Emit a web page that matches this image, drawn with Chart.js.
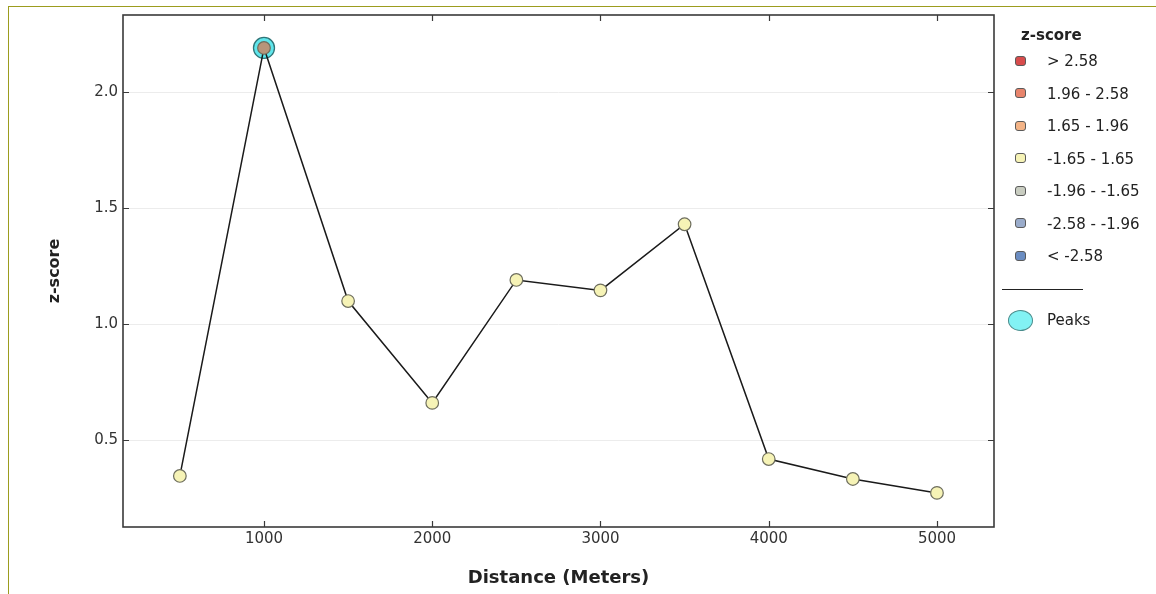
<!DOCTYPE html>
<html>
<head>
<meta charset="utf-8">
<title>z-score by distance</title>
<script src="https://cdn.jsdelivr.net/npm/chart.js@4.4.1/dist/chart.umd.min.js"></script>
<style>
  html, body { margin: 0; padding: 0; background: #fff; }
  body { width: 1156px; height: 594px; position: relative; overflow: hidden; font-family: 'DejaVu Sans', sans-serif; }
  #frame { position: absolute; left: 8px; top: 6px; width: 1200px; height: 700px; border-top: 1px solid #9c9c1e; border-left: 1px solid #9c9c1e; }
  #chart-box { position: absolute; left: 0; top: 0; width: 1156px; height: 594px; }
  #legend { position: absolute; left: 0; top: 0; width: 1156px; height: 594px; color: #222; font-size: 15px; pointer-events: none; }
  #legend div { position: absolute; white-space: nowrap; }
  #legend .title { font-weight: bold; left: 1021px; height: 20px; line-height: 20px; }
  #legend .box { left: 1015px; width: 9px; height: 8px; border: 1.5px solid #5a5a5a; border-radius: 3px; }
  #legend .txt { left: 1047px; height: 20px; line-height: 20px; }
  #legend .divider { left: 1002px; width: 81px; border-top: 1px solid #222; }
  #legend .circ { left: 1008px; width: 23px; height: 19px; border: 1px solid #4a8c8c; border-radius: 50%; background: #82f2f4; }
</style>
</head>
<body>
<div id="frame"></div>
<div id="chart-box"><canvas id="zchart" width="1156" height="594"></canvas></div>
<div id="legend"></div>

<script>
'use strict';

// data
let distances = [500, 1000, 1500, 2000, 2500, 3000, 3500, 4000, 4500, 5000];
let zScores = [0.345, 2.19, 1.099, 0.66, 1.19, 1.145, 1.43, 0.418, 0.332, 0.272];
let peakDistances = [1000];
let peakScores = [2.19];

let xTicks = [1000, 2000, 3000, 4000, 5000];
let yTicks = [0.5, 1.0, 1.5, 2.0];

// z-score bins for the legend
let binLabels = ['> 2.58', '1.96 - 2.58', '1.65 - 1.96', '-1.65 - 1.65', '-1.96 - -1.65', '-2.58 - -1.96', '< -2.58'];
let binColors = ['#d84c4c', '#e8846c', '#f4b487', '#f6f3b6', '#c9cdc1', '#9aaccb', '#6b8dc2'];

function binColor(z){
  if(z > 2.58) return binColors[0];
  if(z > 1.96) return '#b8957a';
  if(z > 1.65) return binColors[2];
  if(z >= -1.65) return binColors[3];
  if(z >= -1.96) return binColors[4];
  if(z >= -2.58) return binColors[5];
  return binColors[6];
}

let points = [];
let pointColors = [];
for(let i = 0; i < distances.length; i++){
  points.push({x: distances[i], y: zScores[i]});
  pointColors.push(binColor(zScores[i]));
}
let peakPoints = [];
for(let i = 0; i < peakDistances.length; i++){
  peakPoints.push({x: peakDistances[i], y: peakScores[i]});
}

// html legend, rows placed by their centre line
let legendBox = document.getElementById('legend');
let legendHtml = '<div class="title" style="top:25px">z-score</div>';
for(let i = 0; i < binLabels.length; i++){
  let mid = 61 + i * 32.5;
  legendHtml += `<div class="box" style="top:${mid - 5.5}px;background:${binColors[i]}"></div>`;
  legendHtml += `<div class="txt" style="top:${mid - 10}px">${binLabels[i]}</div>`;
}
legendHtml += '<div class="divider" style="top:289px"></div>';
legendHtml += '<div class="circ" style="top:310px"></div>';
legendHtml += '<div class="txt" style="top:310px">Peaks</div>';
legendBox.innerHTML = legendHtml;

// frame round the plot plus inward tick marks on all four sides
const frameTicks = {
  id: 'frameTicks',
  afterDatasetsDraw(chart){
    let ctx = chart.ctx;
    let a = chart.chartArea;
    let xs = chart.scales.x;
    let ys = chart.scales.y;
    ctx.save();
    ctx.strokeStyle = '#3a3a3a';
    ctx.lineWidth = 1.6;
    ctx.strokeRect(a.left, a.top, a.right - a.left, a.bottom - a.top);
    ctx.lineWidth = 1.2;
    ctx.beginPath();
    xTicks.forEach(function(v){
      let px = Math.round(xs.getPixelForValue(v)) + 0.5;
      ctx.moveTo(px, a.bottom); ctx.lineTo(px, a.bottom - 6);
      ctx.moveTo(px, a.top); ctx.lineTo(px, a.top + 6);
    });
    yTicks.forEach(function(v){
      let py = Math.round(ys.getPixelForValue(v)) + 0.5;
      ctx.moveTo(a.left, py); ctx.lineTo(a.left + 6, py);
      ctx.moveTo(a.right, py); ctx.lineTo(a.right - 6, py);
    });
    ctx.stroke();
    ctx.restore();
  }
};

let ctx = document.getElementById('zchart');

new Chart(ctx, {
  type: 'scatter',
  data: {
    datasets: [{
      label: 'z-score',
      data: points,
      showLine: true,
      borderColor: '#1a1a1a',
      borderWidth: 1.5,
      pointRadius: 6.3,
      pointBackgroundColor: pointColors,
      pointBorderColor: '#6e6e5e',
      pointBorderWidth: 1.2
    },
    {
      label: 'Peaks',
      data: peakPoints,
      showLine: false,
      pointRadius: 10.5,
      pointBackgroundColor: '#5fe6ec',
      pointBorderColor: '#2f7578',
      pointBorderWidth: 1.3
    }]
  },
  options: {
    responsive: false,
    animation: false,
    layout: { padding: { top: 15, right: 162, bottom: 0, left: 0 } },
    plugins: {
      legend: { display: false },
      tooltip: { enabled: false }
    },
    scales: {
      x: {
        type: 'linear',
        min: 162,
        max: 5339,
        afterBuildTicks: function(scale){
          scale.ticks = xTicks.map(function(v){ return {value: v}; });
        },
        afterFit: function(scale){ scale.height = 67; },
        border: { display: false },
        grid: { display: false, drawTicks: false },
        ticks: {
          color: '#333',
          padding: 3,
          font: { family: 'DejaVu Sans', size: 15 },
          callback: function(v){ return String(v); }
        },
        title: {
          display: true,
          text: 'Distance (Meters)',
          color: '#222',
          font: { family: 'DejaVu Sans', size: 18, weight: 'bold' },
          padding: { top: 0, bottom: 5 }
        }
      },
      y: {
        type: 'linear',
        min: 0.125,
        max: 2.332,
        afterBuildTicks: function(scale){
          scale.ticks = yTicks.map(function(v){ return {value: v}; });
        },
        afterFit: function(scale){ scale.width = 123; },
        border: { display: false },
        grid: { color: '#ececec', lineWidth: 1, drawTicks: false },
        ticks: {
          color: '#333',
          padding: 5,
          font: { family: 'DejaVu Sans', size: 15 },
          callback: function(v){ return Number(v).toFixed(1); }
        },
        title: {
          display: true,
          text: 'z-score',
          color: '#222',
          font: { family: 'DejaVu Sans', size: 16, weight: 'bold' },
          padding: { top: 45, bottom: 0 }
        }
      }
    }
  },
  plugins: [frameTicks]
});
</script>
</body>
</html>
